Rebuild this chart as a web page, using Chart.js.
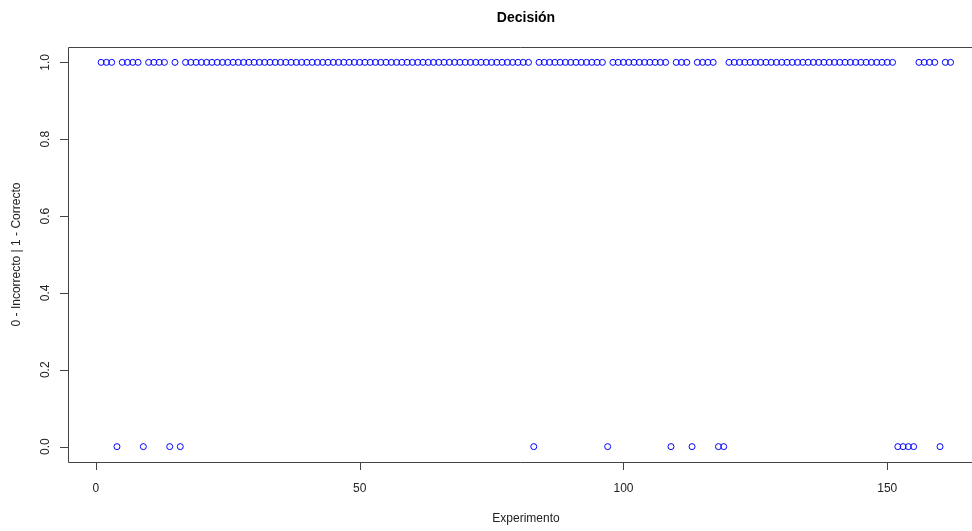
<!DOCTYPE html>
<html>
<head>
<meta charset="utf-8">
<script src="https://cdn.jsdelivr.net/npm/chart.js@4/dist/chart.umd.min.js"></script>
<style>
  html, body { margin: 0; padding: 0; background: #fff; overflow: hidden; }
  #wrap { width: 972px; height: 531px; }
</style>
</head>
<body>
<div id="wrap"><canvas id="chart" width="972" height="531"></canvas></div>
<script>
// Decisión por experimento: 0 = incorrecto, 1 = correcto
const decision = [
  1,1,1,0,1,1,1,1,0,1,
  1,1,1,0,1,0,1,1,1,1,
  1,1,1,1,1,1,1,1,1,1,
  1,1,1,1,1,1,1,1,1,1,
  1,1,1,1,1,1,1,1,1,1,
  1,1,1,1,1,1,1,1,1,1,
  1,1,1,1,1,1,1,1,1,1,
  1,1,1,1,1,1,1,1,1,1,
  1,1,0,1,1,1,1,1,1,1,
  1,1,1,1,1,1,0,1,1,1,
  1,1,1,1,1,1,1,1,0,1,
  1,1,0,1,1,1,1,0,0,1,
  1,1,1,1,1,1,1,1,1,1,
  1,1,1,1,1,1,1,1,1,1,
  1,1,1,1,1,1,1,1,1,1,
  1,0,0,0,0,1,1,1,1,0,
  1,1
];
const xTicks = [0, 50, 100, 150];
const yTicks = [0, 0.2, 0.4, 0.6, 0.8, 1.0];
const yTickLabels = ['0.0', '0.2', '0.4', '0.6', '0.8', '1.0'];

const points = decision.map((v, i) => ({ x: i + 1, y: v }));

// R-like axes drawn on top of the chart area (the plot box runs off the right edge)
const rAxes = {
  id: 'rAxes',
  afterDraw(chart) {
    const ctx = chart.ctx;
    const area = chart.chartArea;
    const xs = chart.scales.x, ys = chart.scales.y;
    ctx.save();
    ctx.strokeStyle = '#444';
    ctx.lineWidth = 1;
    ctx.beginPath();
    ctx.moveTo(chart.width, area.top + 0.5);
    ctx.lineTo(area.left + 0.5, area.top + 0.5);
    ctx.lineTo(area.left + 0.5, area.bottom + 0.5);
    ctx.lineTo(chart.width, area.bottom + 0.5);
    ctx.stroke();

    ctx.fillStyle = '#222';
    ctx.font = '12px "Liberation Sans", Arial, sans-serif';

    // x axis
    ctx.beginPath();
    xTicks.forEach(t => {
      const px = Math.round(xs.getPixelForValue(t)) + 0.5;
      ctx.moveTo(px, area.bottom); ctx.lineTo(px, area.bottom + 8);
    });
    ctx.stroke();
    ctx.textAlign = 'center';
    ctx.textBaseline = 'middle';
    xTicks.forEach(t => ctx.fillText(String(t), xs.getPixelForValue(t), 489));
    ctx.fillText('Experimento', 526, 519);

    // y axis
    ctx.beginPath();
    yTicks.forEach(t => {
      const py = Math.round(ys.getPixelForValue(t)) + 0.5;
      ctx.moveTo(area.left, py); ctx.lineTo(area.left - 8, py);
    });
    ctx.stroke();
    yTicks.forEach((t, i) => {
      ctx.save();
      ctx.translate(46, ys.getPixelForValue(t));
      ctx.rotate(-Math.PI / 2);
      ctx.fillText(yTickLabels[i], 0, 0);
      ctx.restore();
    });
    ctx.save();
    ctx.translate(17, (area.top + area.bottom) / 2);
    ctx.rotate(-Math.PI / 2);
    ctx.fillText('0 - Incorrecto | 1 - Correcto', 0, 0);
    ctx.restore();

    // title
    ctx.fillStyle = '#000';
    ctx.font = 'bold 14px "Liberation Sans", Arial, sans-serif';
    ctx.fillText('Decisión', 526, 18);
    ctx.restore();
  }
};

new Chart(document.getElementById('chart').getContext('2d'), {
  type: 'scatter',
  data: {
    datasets: [{
      label: 'Decisión',
      data: points,
      pointStyle: 'circle',
      pointRadius: 3,
      pointHoverRadius: 3,
      borderWidth: 1,
      borderColor: '#0000ff',
      backgroundColor: 'rgba(0,0,0,0)'
    }]
  },
  options: {
    responsive: false,
    animation: false,
    layout: { padding: { left: 68, right: 0, top: 47, bottom: 69 } },
    plugins: {
      legend: { display: false },
      tooltip: { enabled: false }
    },
    scales: {
      x: { type: 'linear', min: -5.28, max: 165.3, display: false },
      y: { type: 'linear', min: -0.04, max: 1.04, display: false }
    }
  },
  plugins: [rAxes]
});
</script>
</body>
</html>
